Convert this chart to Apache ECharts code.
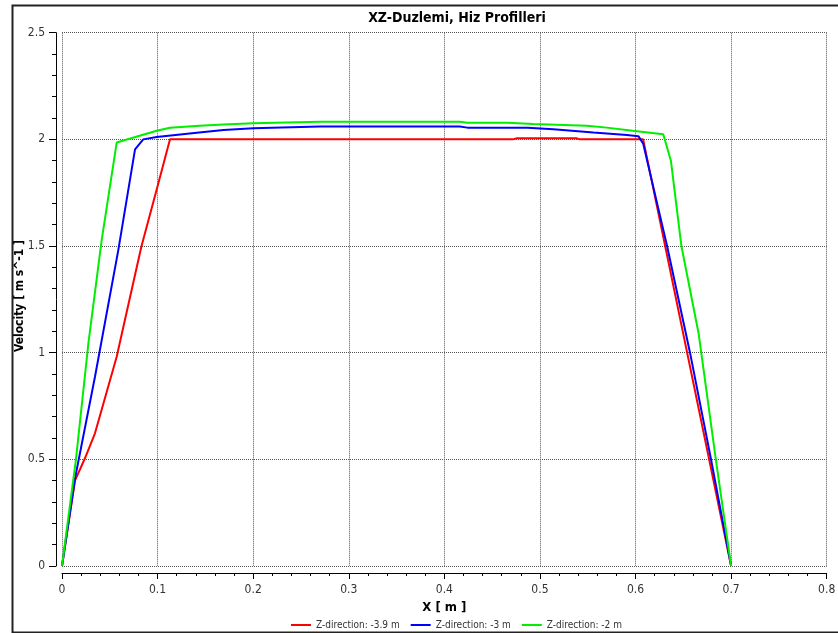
<!DOCTYPE html>
<html>
<head>
<meta charset="utf-8">
<script src="https://cdn.jsdelivr.net/npm/echarts@6/dist/echarts.min.js"></script>
<style>html,body{margin:0;padding:0;background:#fff}#c{width:838px;height:633px}</style>
</head>
<body>
<div id="c"></div>
<script>
var seriesNames = ['Z-direction: -3.9 m', 'Z-direction: -3 m', 'Z-direction: -2 m'];
var xTicks = [0, 0.1, 0.2, 0.3, 0.4, 0.5, 0.6, 0.7, 0.8];
var yTicks = [0, 0.5, 1, 1.5, 2, 2.5];

var redX = [0, 0.0136, 0.024, 0.0345, 0.0572, 0.083, 0.1008, 0.113, 0.472, 0.476, 0.538, 0.542, 0.608, 0.7];
var redY = [0, 0.40, 0.505, 0.622, 0.981, 1.497, 1.794, 2.0, 2.0, 2.005, 2.005, 2.0, 2.0, 0];

var blueX = [0, 0.0136, 0.0345, 0.0589, 0.0764, 0.085, 0.099, 0.141, 0.169, 0.2, 0.27, 0.416, 0.424, 0.487, 0.514, 0.556, 0.591, 0.603, 0.608, 0.633, 0.657, 0.679, 0.7];
var blueY = [0, 0.41, 0.887, 1.481, 1.953, 2.0, 2.011, 2.031, 2.044, 2.052, 2.06, 2.06, 2.055, 2.055, 2.047, 2.032, 2.02, 2.015, 1.98, 1.5, 1.0, 0.5, 0];

var greenX = [0, 0.0146, 0.0276, 0.0415, 0.0572, 0.099, 0.113, 0.144, 0.169, 0.2, 0.27, 0.416, 0.424, 0.466, 0.493, 0.549, 0.57, 0.597, 0.629, 0.637, 0.648, 0.666, 0.684, 0.7];
var greenY = [0, 0.5, 1.044, 1.528, 1.985, 2.04, 2.054, 2.064, 2.07, 2.075, 2.082, 2.082, 2.078, 2.078, 2.072, 2.064, 2.055, 2.04, 2.024, 1.90, 1.50, 1.09, 0.5, 0];

var colors = ['#ff0000', '#0000ff', '#00ee00'];

function zip(xs, ys) { return xs.map(function (x, i) { return [x, ys[i]]; }); }
var datasets = [zip(redX, redY), zip(blueX, blueY), zip(greenX, greenY)];

var font = 'DejaVu Sans Condensed';
var chart = echarts.init(document.getElementById('c'));
chart.setOption({
  animation: false,
  backgroundColor: '#fff',
  title: {
    text: 'XZ-Duzlemi, Hiz Profilleri',
    left: 452, top: 6, textAlign: 'center',
    textStyle: { fontFamily: font, fontSize: 14, fontWeight: 'bold', color: '#000' }
  },
  legend: {
    data: seriesNames,
    left: 286, top: 615,
    icon: 'rect', itemWidth: 20, itemHeight: 2, itemGap: 11,
    textStyle: { fontFamily: font, fontSize: 10, color: '#333' }
  },
  grid: { left: 62, right: 11.3, top: 32.7, bottom: 67, containLabel: false, outerBoundsMode: 'none' },
  xAxis: {
    type: 'value', min: 0, max: 0.8, interval: 0.1,
    offset: 7,
    name: 'X [ m ]', nameLocation: 'middle', nameGap: 28, nameMoveOverlap: false,
    nameTextStyle: { fontFamily: font, fontSize: 13, fontWeight: 'bold', color: '#000' },
    axisLine: { show: true, onZero: false, lineStyle: { color: '#000', width: 1 } },
    axisTick: { show: true, length: 6, lineStyle: { color: '#000' } },
    minorTick: { show: true, splitNumber: 5, length: 3, lineStyle: { color: '#000' } },
    axisLabel: { fontFamily: font, fontSize: 12, color: '#333', margin: 11,
      formatter: function (v) { var t = xTicks.filter(function (k) { return Math.abs(k - v) < 1e-9; }); return t.length ? String(t[0]) : ''; } },
    splitLine: { show: true, lineStyle: { color: '#555', type: [1, 1], width: 1 } }
  },
  yAxis: {
    type: 'value', min: 0, max: 2.5, interval: 0.5,
    offset: 6,
    axisLine: { show: true, onZero: false, lineStyle: { color: '#000', width: 1 } },
    axisTick: { show: true, length: 7, lineStyle: { color: '#000' } },
    minorTick: { show: true, splitNumber: 5, length: 4, lineStyle: { color: '#000' } },
    axisLabel: { fontFamily: font, fontSize: 12, color: '#333', margin: 11,
      formatter: function (v) { var t = yTicks.filter(function (k) { return Math.abs(k - v) < 1e-9; }); return t.length ? String(t[0]) : ''; } },
    splitLine: { show: true, lineStyle: { color: '#555', type: [1, 1], width: 1 } }
  },
  graphic: [{
    type: 'rect', left: 10, top: 3, z: 100, silent: true,
    shape: { x: 0, y: 0, width: 838, height: 627 },
    style: { fill: 'none', stroke: '#222', lineWidth: 2 }
  }, {
    type: 'text', x: 20, y: 296, rotation: Math.PI / 2, silent: true,
    style: { text: 'Velocity [ m s^-1 ]', fontFamily: font, fontSize: 12, fontWeight: 'bold',
      fill: '#000', align: 'center', verticalAlign: 'middle' }
  }],
  series: seriesNames.map(function (n, i) {
    return {
      name: n, type: 'line', data: datasets[i], symbol: 'none',
      lineStyle: { color: colors[i], width: 2 }, itemStyle: { color: colors[i] }
    };
  })
});
</script>
</body>
</html>
